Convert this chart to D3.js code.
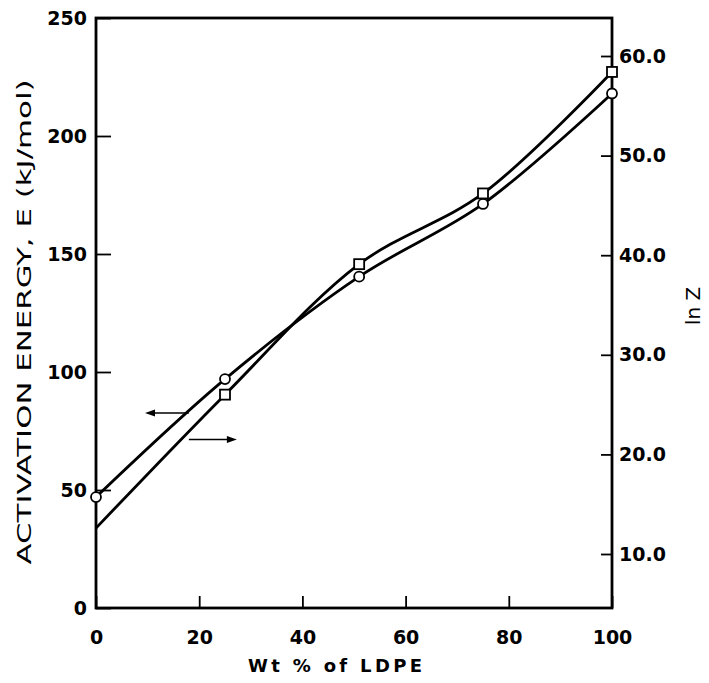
<!DOCTYPE html>
<html>
<head>
<meta charset="utf-8">
<script src="https://cdn.jsdelivr.net/npm/d3@7"></script>
<style>
  body { margin: 0; background: #fff; }
  text { fill: #000; }
</style>
</head>
<body>
<div id="chart"></div>
<script>
// data
const wtLDPE = [0, 25, 51, 75, 100];                 // Wt % of LDPE
const energyE = [47, 97, 140.4, 171.2, 218];          // activation energy E (kJ/mol), circles
const lnZ = [12.6, 26, 39.1, 46.2, 58.4];             // ln Z, squares
const eTicks = [0, 50, 100, 150, 200, 250];
const zTicks = [10, 20, 30, 40, 50, 60];
const xTicks = [0, 20, 40, 60, 80, 100];
// arrows showing which axis each curve belongs to (wt%, axis value)
const arrowToE = [[18, 82.6], [9.5, 82.6]];
const arrowToZ = [[18, 21.5], [27.3, 21.5]];

const width = 709;
const height = 683;

const svg = d3.select("#chart")
  .append("svg")
  .attr("width", width)
  .attr("height", height)
  .style("font-family", "'DejaVu Sans', sans-serif");

const x = d3.scaleLinear().domain([0, 100]).range([96, 612]);
const yE = d3.scaleLinear().domain([0, 250]).range([608, 18]);
const yZ = d3.scaleLinear().domain([10, 60]).range([554, 56]);

// frame
svg.append("rect")
  .attr("x", x(0))
  .attr("y", yE(250))
  .attr("width", x(100) - x(0))
  .attr("height", yE(0) - yE(250))
  .attr("fill", "none")
  .attr("stroke", "#000")
  .attr("stroke-width", 2.8);

// axes, ticks pointing inwards
const leftAxis = svg.append("g")
  .attr("transform", `translate(${x(0)},0)`)
  .call(d3.axisLeft(yE).tickValues(eTicks).tickSize(-15).tickPadding(9));

const rightAxis = svg.append("g")
  .attr("transform", `translate(${x(100)},0)`)
  .call(d3.axisRight(yZ).tickValues(zTicks).tickSize(-11).tickPadding(7)
    .tickFormat(d3.format(".1f")));

const bottomAxis = svg.append("g")
  .attr("transform", `translate(0,${yE(0)})`)
  .call(d3.axisBottom(x).tickValues(xTicks).tickSize(-12).tickPadding(23));

[leftAxis, rightAxis, bottomAxis].forEach(g => {
  g.select(".domain").remove();
  g.selectAll(".tick line").attr("stroke", "#000").attr("stroke-width", 1.8);
  g.selectAll(".tick text")
    .attr("font-size", 19)
    .attr("font-weight", "bold")
    .attr("font-family", "'DejaVu Sans', sans-serif");
});

// curves (smooth, through the points)
const eLine = d3.line()
  .x((d, i) => x(wtLDPE[i]))
  .y(d => yE(d))
  .curve(d3.curveCatmullRom.alpha(0.5));

const zLine = d3.line()
  .x((d, i) => x(wtLDPE[i]))
  .y(d => yZ(d))
  .curve(d3.curveCatmullRom.alpha(0.5));

svg.append("path")
  .datum(energyE)
  .attr("d", eLine)
  .attr("fill", "none")
  .attr("stroke", "#000")
  .attr("stroke-width", 2.8);

svg.append("path")
  .datum(lnZ)
  .attr("d", zLine)
  .attr("fill", "none")
  .attr("stroke", "#000")
  .attr("stroke-width", 2.8);

// markers: circles for E, squares for ln Z (no square at 0)
svg.selectAll(".pt-e")
  .data(energyE)
  .enter().append("circle")
  .attr("class", "pt-e")
  .attr("cx", (d, i) => x(wtLDPE[i]))
  .attr("cy", d => yE(d))
  .attr("r", 5)
  .attr("fill", "#fff")
  .attr("stroke", "#000")
  .attr("stroke-width", 1.8);

svg.selectAll(".pt-z")
  .data(lnZ.slice(1))
  .enter().append("rect")
  .attr("class", "pt-z")
  .attr("x", (d, i) => x(wtLDPE[i + 1]) - 5)
  .attr("y", d => yZ(d) - 5)
  .attr("width", 10)
  .attr("height", 10)
  .attr("fill", "#fff")
  .attr("stroke", "#000")
  .attr("stroke-width", 1.8);

// arrows
function drawArrow(pts, yScale) {
  const x1 = x(pts[0][0]), y1 = yScale(pts[0][1]);
  const x2 = x(pts[1][0]), y2 = yScale(pts[1][1]);
  const dir = Math.sign(x2 - x1);
  svg.append("line")
    .attr("x1", x1).attr("y1", y1)
    .attr("x2", x2 - dir * 6).attr("y2", y2)
    .attr("stroke", "#000")
    .attr("stroke-width", 1.6);
  svg.append("path")
    .attr("d", `M${x2},${y2} L${x2 - dir * 10},${y2 - 3.5} L${x2 - dir * 10},${y2 + 3.5} Z`)
    .attr("fill", "#000");
}
drawArrow(arrowToE, yE);
drawArrow(arrowToZ, yZ);

// axis titles
svg.append("text")
  .attr("transform", "translate(31,322) rotate(-90)")
  .attr("text-anchor", "middle")
  .attr("font-size", 19)
  .attr("textLength", 485)
  .attr("lengthAdjust", "spacingAndGlyphs")
  .text("ACTIVATION ENERGY, E (kJ/mol)");

svg.append("text")
  .attr("transform", "translate(700,306) rotate(-90)")
  .attr("text-anchor", "middle")
  .attr("font-size", 20)
  .text("ln Z");

svg.append("text")
  .attr("x", 335)
  .attr("y", 672)
  .attr("text-anchor", "middle")
  .attr("font-size", 18)
  .attr("font-weight", "bold")
  .attr("textLength", 174)
  .attr("lengthAdjust", "spacing")
  .text("Wt % of LDPE");
</script>
</body>
</html>
